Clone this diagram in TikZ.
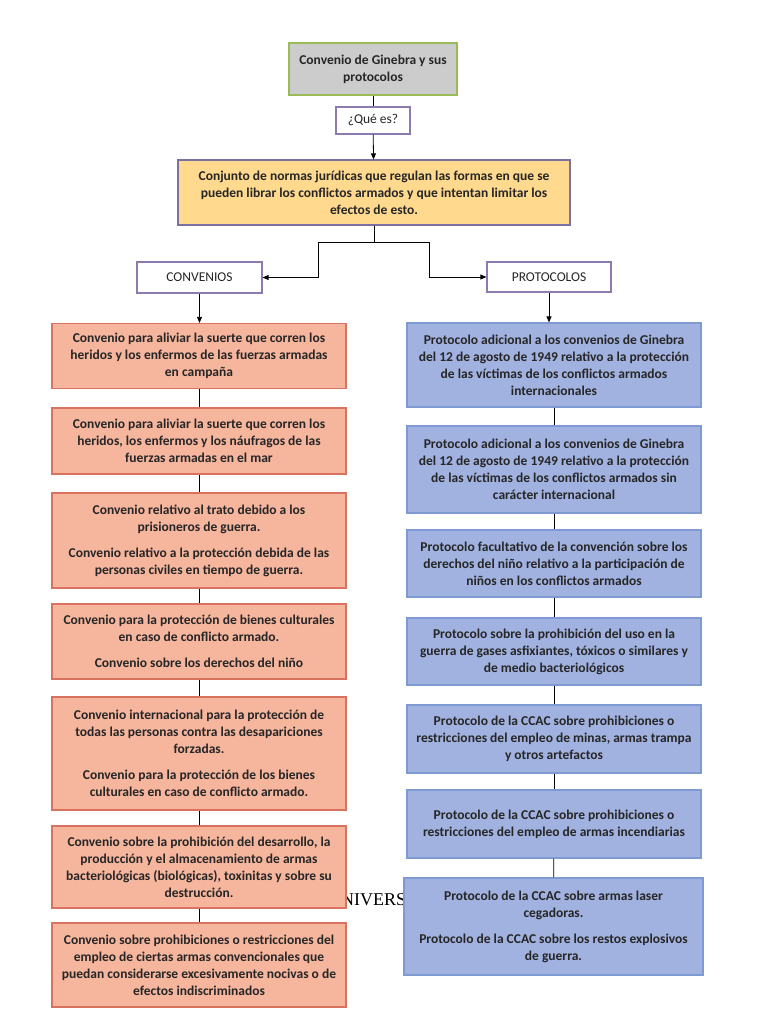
\documentclass[tikz,border=0pt]{standalone}
\usepackage{fontspec}
\setmainfont{Carlito}
\newfontfamily\serifbg{Liberation Serif}
\usetikzlibrary{arrows.meta}

\definecolor{titlefill}{HTML}{CCCCCC}
\definecolor{titleline}{HTML}{9BBB59}
\definecolor{purpleline}{HTML}{8D7BAE}
\definecolor{deffill}{HTML}{FFD98E}
\definecolor{defline}{HTML}{7C6FA3}
\definecolor{convfill}{HTML}{F6B59D}
\definecolor{convline}{HTML}{D9735F}
\definecolor{protfill}{HTML}{A1B2E0}
\definecolor{protline}{HTML}{7F9AD2}

\begin{document}
\begin{tikzpicture}[x=1pt,y=-1pt,
  txt/.style={font=\bfseries\fontsize{13.5}{17}\selectfont, text=black!85, align=center, inner sep=0pt},
  titlebox/.style={txt, draw=titleline, fill=titlefill, line width=1.2pt},
  labelbox/.style={txt, draw=purpleline, fill=white, line width=1.2pt, font=\fontsize{13.5}{17}\selectfont},
  defbox/.style={txt, draw=defline, fill=deffill, line width=1.2pt},
  convbox/.style={txt, draw=convline, fill=convfill, line width=1.2pt, minimum width=294},
  protbox/.style={txt, draw=protline, fill=protfill, line width=1.2pt, minimum width=294},
  link/.style={line width=0.8pt, black},
  arrowlink/.style={link, -{Triangle[length=6pt,width=5pt]}}]
\fill[white] (0,0) rectangle (768,1024);
\useasboundingbox (0,0) rectangle (768,1024);
%
\node[anchor=base west, inner sep=0pt, font=\serifbg\fontsize{18}{20}\selectfont] (univ) at (328,905) {UNIVERSIDAD};
%
\node[titlebox, minimum width=168, minimum height=52] (title) at (373,69) {Convenio de Ginebra y sus\\protocolos};
\node[labelbox, minimum width=74, minimum height=27] (quees) at (373,120.5) {¿Qué es?};
\node[defbox, minimum width=392, minimum height=65] (def) at (374,192.5) {Conjunto de normas jurídicas que regulan las formas en que se\\pueden librar los conflictos armados y que intentan limitar los\\efectos de esto.};
\node[labelbox, minimum width=125, minimum height=31] (conv) at (199.5,277.5) {CONVENIOS};
\node[labelbox, minimum width=124, minimum height=30] (prot) at (549,277) {PROTOCOLOS};
%
% convenios
\node[convbox, minimum height=65] (c1) at (199,356) {Convenio para aliviar la suerte que corren los\\heridos y los enfermos de las fuerzas armadas\\en campaña};
\node[convbox, minimum height=66] (c2) at (199,441) {Convenio para aliviar la suerte que corren los\\heridos, los enfermos y los náufragos de las\\fuerzas armadas en el mar};
\node[convbox, minimum height=95] (c3) at (199,540.5) {Convenio relativo al trato debido a los\\prisioneros de guerra.\\[9pt]Convenio relativo a la protección debida de las\\personas civiles en tiempo de guerra.};
\node[convbox, minimum height=75] (c4) at (199,641.5) {Convenio para la protección de bienes culturales\\en caso de conflicto armado.\\[9pt]Convenio sobre los derechos del niño};
\node[convbox, minimum height=113] (c5) at (199,753.5) {Convenio internacional para la protección de\\todas las personas contra las desapariciones\\forzadas.\\[9pt]Convenio para la protección de los bienes\\culturales en caso de conflicto armado.};
\node[convbox, minimum height=82] (c6) at (199,867) {Convenio sobre la prohibición del desarrollo, la\\producción y el almacenamiento de armas\\bacteriológicas (biológicas), toxinitas y sobre su\\destrucción.};
\node[convbox, minimum height=84] (c7) at (199,965) {Convenio sobre prohibiciones o restricciones del\\empleo de ciertas armas convencionales que\\puedan considerarse excesivamente nocivas o de\\efectos indiscriminados};
%
% protocolos
\node[protbox, minimum height=84] (p1) at (554,365) {Protocolo adicional a los convenios de Ginebra\\del 12 de agosto de 1949 relativo a la protección\\de las víctimas de los conflictos armados\\internacionales};
\node[protbox, minimum height=87] (p2) at (554,469.5) {Protocolo adicional a los convenios de Ginebra\\del 12 de agosto de 1949 relativo a la protección\\de las víctimas de los conflictos armados sin\\carácter internacional};
\node[protbox, minimum height=67] (p3) at (554,563.5) {Protocolo facultativo de la convención sobre los\\derechos del niño relativo a la participación de\\niños en los conflictos armados};
\node[protbox, minimum height=67] (p4) at (554,651.5) {Protocolo sobre la prohibición del uso en la\\guerra de gases asfixiantes, tóxicos o similares y\\de medio bacteriológicos};
\node[protbox, minimum height=68] (p5) at (554,739) {Protocolo de la CCAC sobre prohibiciones o\\restricciones del empleo de minas, armas trampa\\y otros artefactos};
\node[protbox, minimum height=68] (p6) at (554,824) {Protocolo de la CCAC sobre prohibiciones o\\restricciones del empleo de armas incendiarias};
\node[protbox, minimum width=299, minimum height=97] (p7) at (553.5,926.5) {Protocolo de la CCAC sobre armas laser\\cegadoras.\\[9pt]Protocolo de la CCAC sobre los restos explosivos\\de guerra.};
%
% connectors
\draw[link] (title) -- (quees);
\draw[arrowlink] (quees) -- (def);
\draw[arrowlink] (def.south) |- (318,242) |- (conv.east);
\draw[arrowlink] (def.south) |- (429,242) |- (prot.east -| prot.west);
\draw[arrowlink] (conv.south) -- (conv.south |- c1.north);
\draw[arrowlink] (prot.south) -- (prot.south |- p1.north);
\foreach \a/\b in {c1/c2,c2/c3,c3/c4,c4/c5,c5/c6,c6/c7,p1/p2,p2/p3,p3/p4,p4/p5,p5/p6,p6/p7}
  \draw[link] (\a) -- (\b);
\end{tikzpicture}
\end{document}
